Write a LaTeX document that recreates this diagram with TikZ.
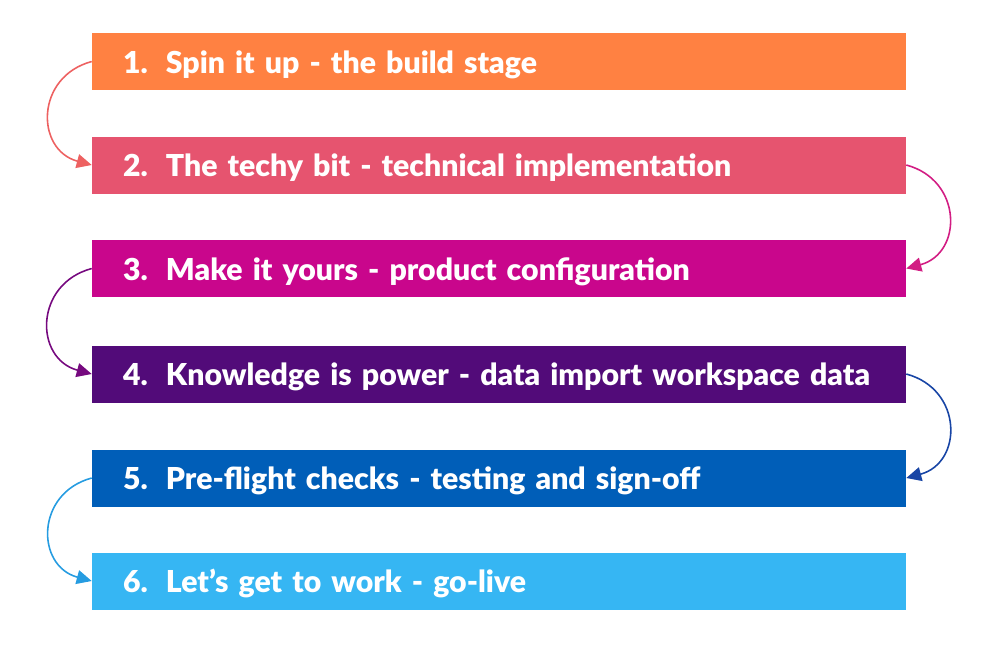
\documentclass[tikz,border=0pt]{standalone}
\usepackage{fontspec}
\setmainfont{Lato}[BoldFont={Lato Black}]
\usetikzlibrary{arrows.meta}
\definecolor{stageone}{HTML}{FF8142}
\definecolor{stagetwo}{HTML}{E6546F}
\definecolor{stagethree}{HTML}{C9068C}
\definecolor{stagefour}{HTML}{520B79}
\definecolor{stagefive}{HTML}{005EB8}
\definecolor{stagesix}{HTML}{36B6F3}
\tikzset{
  stagebox/.style={rectangle, minimum width=16.28cm, minimum height=1.14cm,
    text width=15.04cm, align=left, inner xsep=0.62cm, text=white,
    text height=0.46cm, text depth=0pt,
    font=\fontsize{17.2}{18}\selectfont\bfseries},
  hop/.style={line width=0.9pt, -{Triangle[length=0.3cm,width=0.28cm]}, looseness=1.45}
}
\begin{document}
\begin{tikzpicture}[x=0.02cm,y=-0.02cm]
\useasboundingbox (0,0) rectangle (1000,647);
\node[stagebox, fill=stageone] (s1) at (499,61.5) {1.\hspace{0.6em}Spin it up - the build stage};
\node[stagebox, fill=stagetwo] (s2) at (499,165) {2.\hspace{0.6em}The techy bit - technical implementation};
\node[stagebox, fill=stagethree] (s3) at (499,268.5) {3.\hspace{0.6em}Make it yours - product configuration};
\node[stagebox, fill=stagefour] (s4) at (499,374) {4.\hspace{0.6em}Knowledge is power - data import workspace data};
\node[stagebox, fill=stagefive] (s5) at (499,478) {5.\hspace{0.6em}Pre-flight checks - testing and sign-off};
\node[stagebox, fill=stagesix] (s6) at (499,581) {6.\hspace{0.6em}Let’s get to work - go-live};
\draw[hop, stagetwo!70!stageone] (s1.west) to[out=195, in=165] (s2.west);
\draw[hop, stagethree!70!stagetwo] (s2.east) to[out=-15, in=15] (s3.east);
\draw[hop, stagefour!70!stagethree] (s3.west) to[out=195, in=165] (s4.west);
\draw[hop, stagefive!70!stagefour] (s4.east) to[out=-15, in=15] (s5.east);
\draw[hop, stagesix!70!stagefive] (s5.west) to[out=195, in=165] (s6.west);
\end{tikzpicture}
\end{document}
